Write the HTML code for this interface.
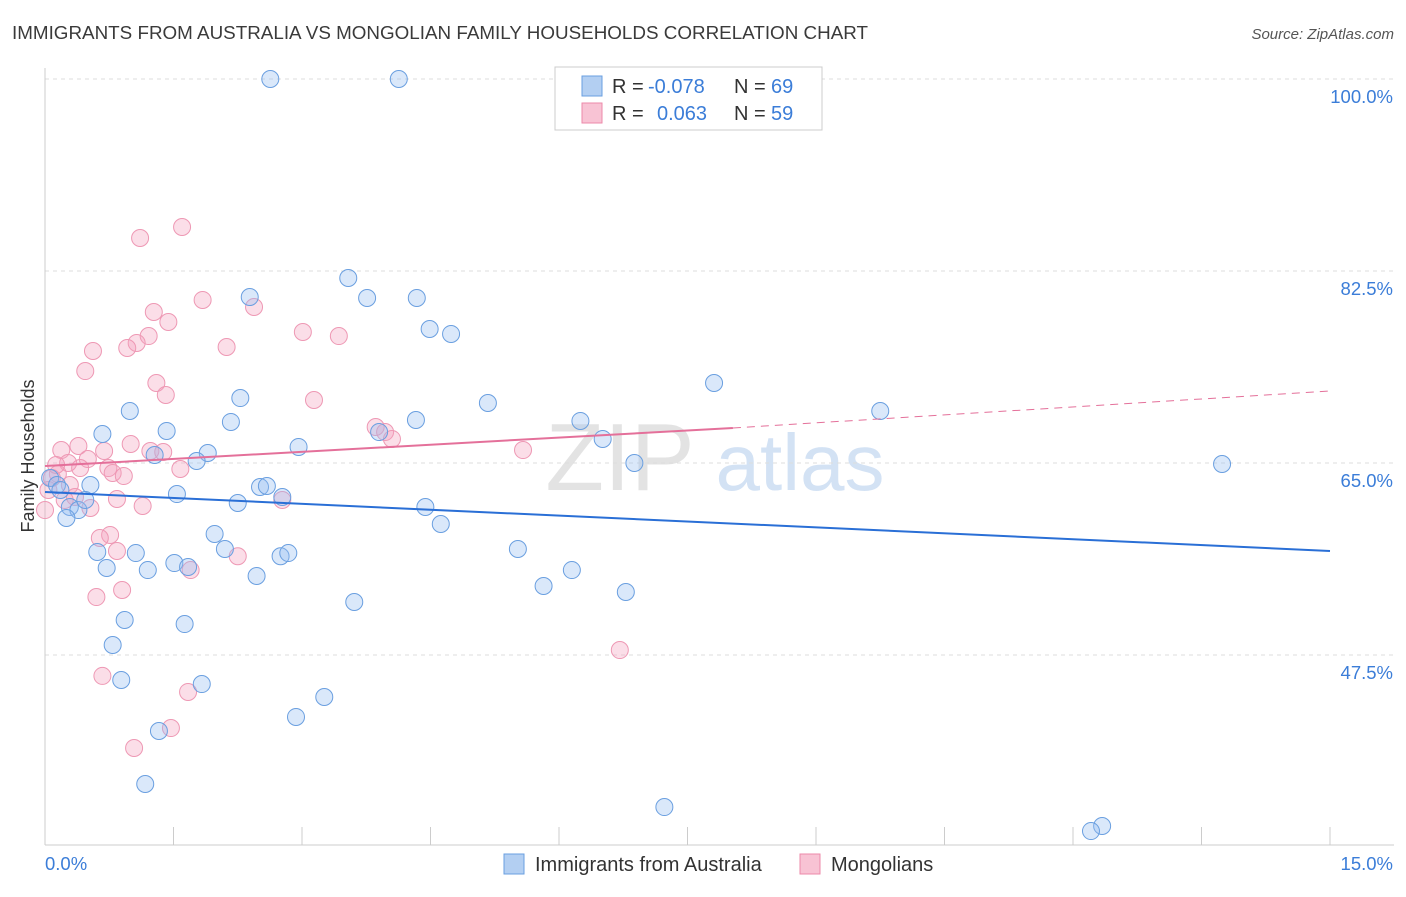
<!DOCTYPE html>
<html><head><meta charset="utf-8"><style>
body{margin:0;background:#fff;font-family:"Liberation Sans",sans-serif;}
svg text{font-family:"Liberation Sans",sans-serif;}
</style></head><body>
<svg id="chart" width="1406" height="892" xmlns="http://www.w3.org/2000/svg">
<text x="12" y="39" font-size="18" fill="#3a3a3a" textLength="856" lengthAdjust="spacingAndGlyphs">IMMIGRANTS FROM AUSTRALIA VS MONGOLIAN FAMILY HOUSEHOLDS CORRELATION CHART</text>
<text x="1394" y="39" font-size="15" fill="#555" text-anchor="end" font-style="italic">Source: ZipAtlas.com</text>
<g>
<text x="620" y="490" font-size="96" fill="#ddd" font-family="Liberation Serif" text-anchor="middle" opacity="0.8">ZIP</text>
<text x="800" y="490" font-size="80" fill="#c9dbf2" text-anchor="middle" opacity="0.8">atlas</text>
</g>
<g id="grid"></g>
<g id="axes"></g>
<g id="pts"></g>
<g id="trends"></g>
<text transform="translate(34,456) rotate(-90)" font-size="18" fill="#333" text-anchor="middle">Family Households</text>
<g>
<rect x="555" y="67" width="267" height="63" fill="#fff" stroke="#ccc"/>
<rect x="582" y="76" width="20" height="20" fill="#b3cff2" stroke="#6a9fe0"/>
<rect x="582" y="103" width="20" height="20" fill="#f8c3d4" stroke="#ec8aaa"/>
<text x="612" y="93" font-size="20" fill="#333">R = <tspan fill="#3b7dd8" x="648">-0.078</tspan></text>
<text x="734" y="93" font-size="20" fill="#333">N = <tspan fill="#3b7dd8" x="771">69</tspan></text>
<text x="612" y="120" font-size="20" fill="#333">R = <tspan fill="#3b7dd8" x="657">0.063</tspan></text>
<text x="734" y="120" font-size="20" fill="#333">N = <tspan fill="#3b7dd8" x="771">59</tspan></text>
</g>
<g>
<rect x="504" y="854" width="20" height="20" fill="#b3cff2" stroke="#6a9fe0"/>
<text x="535" y="871" font-size="20" fill="#333">Immigrants from Australia</text>
<rect x="800" y="854" width="20" height="20" fill="#f8c3d4" stroke="#ec8aaa"/>
<text x="831" y="871" font-size="20" fill="#333">Mongolians</text>
</g>
</svg>
<script>
const blueX=[2.63,4.13,3.54,2.39,3.76,4.34,4.49,4.74,0.99,2.28,2.17,5.17,7.81,9.75,4.33,3.90,6.51,6.25,1.42,0.67,1.28,1.90,1.77,2.96,6.88,13.74,0.06,0.14,0.53,0.18,0.29,0.39,0.47,1.54,2.25,2.51,2.59,2.77,4.44,4.62,0.25,1.98,2.10,0.61,1.06,0.72,1.20,1.51,1.67,2.47,2.75,2.84,5.52,6.15,5.82,6.78,3.61,0.93,1.63,0.79,0.89,1.83,3.26,2.93,1.33,1.17,7.23,12.34,12.21];
const blueY=[100,100,81.86,80.13,80.04,80.04,77.21,76.76,69.74,70.92,68.74,70.47,72.29,69.74,68.92,67.82,67.19,68.83,67.92,67.64,65.73,65.91,65.18,66.46,65.00,64.91,63.63,62.99,62.99,62.54,60.99,60.71,61.63,62.17,61.35,62.81,62.90,61.90,60.99,59.44,59.99,58.53,57.16,56.89,56.79,55.43,55.24,55.88,55.52,54.70,56.50,56.79,57.16,55.24,53.79,53.24,52.33,50.69,50.32,48.41,45.22,44.85,43.67,41.85,40.57,35.74,33.64,31.91,31.45];
const pinkX=[1.60,1.11,1.84,2.44,1.27,1.44,3.01,1.21,3.43,2.12,1.07,0.96,0.56,0.47,1.30,1.41,3.14,3.86,3.97,4.05,1.00,0.39,0.19,0.69,1.23,1.38,0.50,5.58,0.27,0.41,1.58,0.74,0.79,0.92,0.15,0.29,0.35,0.23,0.84,1.14,0.53,2.77,0.0,0.76,0.64,0.84,2.25,1.70,0.90,0.60,6.71,0.67,1.67,1.47,1.04,0.04,0.08,0.13];
const pinkY=[86.51,85.51,79.86,79.22,78.76,77.85,76.94,76.57,76.57,75.57,75.94,75.48,75.21,73.38,72.29,71.20,70.74,68.28,67.82,67.19,66.73,66.55,66.18,66.09,66.09,66.00,65.36,66.18,65.00,64.54,64.45,64.54,64.09,63.81,64.00,62.99,61.90,61.63,61.72,61.08,60.90,61.63,60.71,58.44,58.16,56.98,56.50,55.24,53.42,52.78,47.95,45.59,44.13,40.84,39.02,62.54,63.63,64.82];
const blueTrend=[62.35,56.98];
const pinkTrend=[64.72,68.19,71.56];
const pinkSolidEnd=8.03;
const yTicks=[100,82.5,65,47.5];
const yTickLabels=["100.0%","82.5%","65.0%","47.5%"];
const xTickLabels=["0.0%","15.0%"];

const NS="http://www.w3.org/2000/svg";
const X=v=>45+v/15*1285;
const Y=v=>79+(100-v)*10.971;
function mk(tag,attrs,parent){const e=document.createElementNS(NS,tag);for(const k in attrs)e.setAttribute(k,attrs[k]);document.getElementById(parent).appendChild(e);return e;}

yTicks.forEach((t,i)=>{
  const g=mk('line',{x1:45,x2:1394,y1:Y(t),y2:Y(t),stroke:'#ddd','stroke-dasharray':'4,4'},'grid');
  
  
  const l=mk('text',{x:1393,y:Y(t)+24,'font-size':18.5,fill:'#3b7dd8','text-anchor':'end'},'axes');
  l.textContent=yTickLabels[i];
  
  
});
const ax=mk('line',{x1:45,x2:45,y1:68,y2:845,stroke:'#ccc'},'axes');


const bx=mk('line',{x1:45,x2:1394,y1:845,y2:845,stroke:'#ccc'},'axes');


for(let i=0;i<=10;i++){
  const t=mk('line',{x1:X(i*1.5),x2:X(i*1.5),y1:827,y2:845,stroke:'#ccc'},'axes');
  
  
}
[[0,'start',45],[15,'end',1393]].forEach((p,i)=>{
  const l=mk('text',{x:p[2],y:870,'font-size':18.5,fill:'#3b7dd8','text-anchor':p[1]},'axes');
  l.textContent=xTickLabels[i];
  
  
});
pinkX.forEach((x,i)=>{
  const c=mk('circle',{cx:X(x),cy:Y(pinkY[i]),r:8.5,fill:'rgba(244,160,188,0.35)',stroke:'#ee98b4','stroke-width':1},'pts');
  
  
});
blueX.forEach((x,i)=>{
  const c=mk('circle',{cx:X(x),cy:Y(blueY[i]),r:8.5,fill:'rgba(150,190,240,0.35)',stroke:'#6a9fe0','stroke-width':1},'pts');
  
  
});
const bt=mk('line',{x1:X(0),y1:Y(blueTrend[0]),x2:X(15),y2:Y(blueTrend[1]),stroke:'#2a6fd6','stroke-width':2},'trends');


const pt=mk('line',{x1:X(0),y1:Y(pinkTrend[0]),x2:X(pinkSolidEnd),y2:Y(pinkTrend[1]),stroke:'#e4709a','stroke-width':2},'trends');


const pd=mk('line',{x1:X(pinkSolidEnd),y1:Y(pinkTrend[1]),x2:X(15),y2:Y(pinkTrend[2]),stroke:'#e4709a','stroke-width':1,'stroke-dasharray':'8,6'},'trends');


</script>
</body></html>
